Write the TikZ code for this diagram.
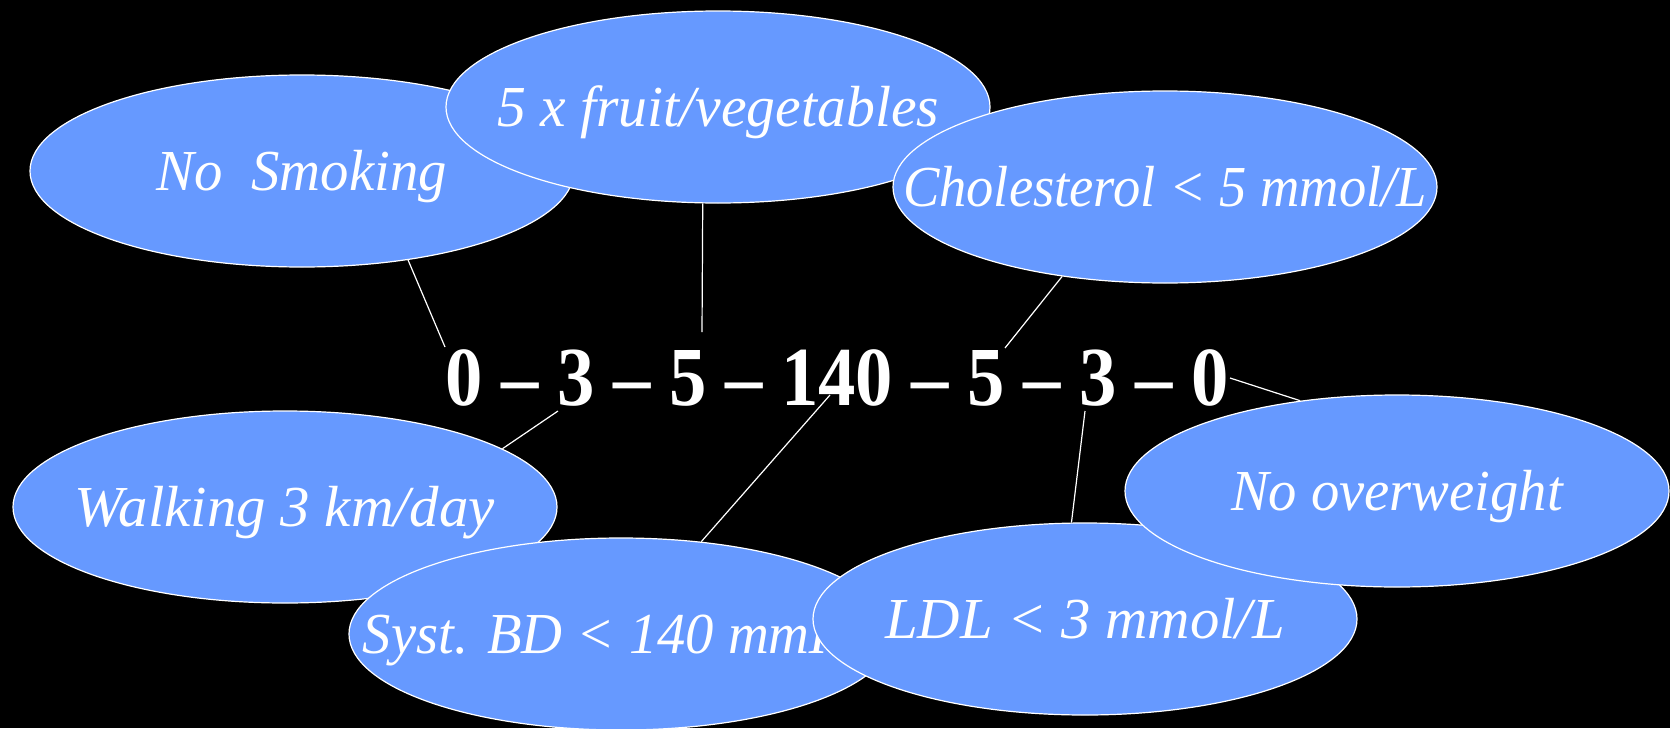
\documentclass[tikz,border=0pt]{standalone}
\usepackage{fontspec}
\setmainfont{Liberation Serif}
\usetikzlibrary{shapes.geometric}
\definecolor{bub}{HTML}{6699FF}
\newcommand{\bubtext}[2]{\makebox[0pt]{\resizebox{#1}{\height}{\fontsize{29}{34}\selectfont\itshape #2}}}
\begin{document}
\begin{tikzpicture}[x=0.5pt,y=-0.5pt,
  bubble/.style={ellipse, fill=bub, draw=white, line width=0.6pt,
    minimum width=272pt, minimum height=96pt, inner sep=0pt,
    text=white, text height=19pt, text depth=0pt},
  conn/.style={draw=white, line width=0.6pt}]
\fill[black] (0,0) rectangle (1670,728);
\useasboundingbox (0,0) rectangle (1670,728);

\node[bubble] (ns) at (302,171) {\bubtext{145pt}{No\ \ Smoking}};
\node[bubble] (fruit) at (718,107) {\bubtext{221pt}{5 x fruit/vegetables}};
\node[bubble] (chol) at (1165,187) {\bubtext{262pt}{Cholesterol < 5 mmol/L}};
\node[bubble] (walk) at (285,507) {\bubtext{210pt}{Walking 3 km/day}};
\node[bubble] (syst) at (621,634) {\bubtext{258pt}{Syst. BD < 140 mmHg}};
\node[bubble] (ldl) at (1085,619) {\bubtext{200pt}{LDL < 3 mmol/L}};
\node[bubble] (over) at (1397,491) {\bubtext{166pt}{No overweight}};

\node[text=white, inner sep=0pt, anchor=base] (nums) at (837,405)
  {\resizebox{392pt}{\height}{\fontsize{42}{48}\selectfont\bfseries 0 – 3 – 5 – 140 – 5 – 3 – 0}};

\coordinate (dns) at (445,347);
\coordinate (dfruit) at (702,332);
\coordinate (dchol) at (1005,348);
\coordinate (dover) at (1230,378);
\coordinate (dldl) at (1085,411);
\coordinate (dsyst) at (830,395);
\coordinate (dwalk) at (558,411);

\draw[conn] (ns.-40) -- (dns);
\draw[conn] (fruit.-99.5) -- (dfruit);
\draw[conn] (chol.-139.4) -- (dchol);
\draw[conn] (over.137.9) -- (dover);
\draw[conn] (ldl.98.9) -- (dldl);
\draw[conn] (syst.49.2) -- (dsyst);
\draw[conn] (walk.15.9) -- (dwalk);
\end{tikzpicture}
\end{document}
